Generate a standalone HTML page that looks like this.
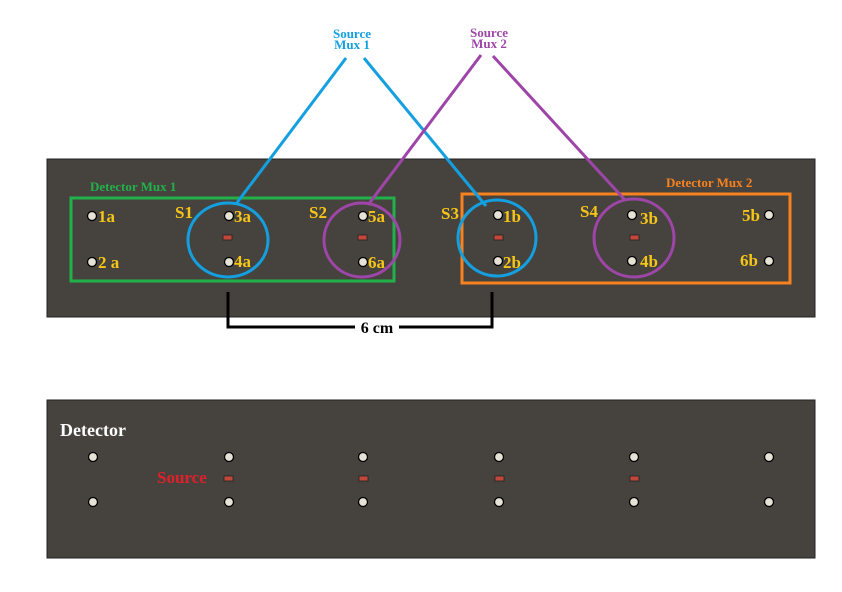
<!DOCTYPE html>
<html><head><style>body{margin:0;background:#fff}svg{display:block}</style></head><body>
<svg width="842" height="592" viewBox="0 0 842 592" xmlns="http://www.w3.org/2000/svg" font-family="Liberation Serif, serif" font-weight="bold">
<rect x="47" y="159" width="768" height="158" fill="#46433e" stroke="#222" stroke-width="1"/>
<rect x="47" y="400" width="768" height="158" fill="#46433e" stroke="#222" stroke-width="1"/>
<rect x="71" y="198" width="323" height="83" fill="none" stroke="#22b04a" stroke-width="3"/>
<rect x="462" y="194" width="328" height="89" fill="none" stroke="#f7821f" stroke-width="3"/>
<text x="90" y="191" fill="#22b04a" font-size="13">Detector Mux 1</text>
<text x="666" y="187" fill="#f7821f" font-size="13">Detector Mux 2</text>
<g stroke-width="3" fill="none">
<line x1="346" y1="58" x2="236" y2="204" stroke="#14a0e0"/>
<line x1="364" y1="58" x2="486" y2="206" stroke="#14a0e0"/>
<line x1="481" y1="55" x2="368" y2="205" stroke="#9e46a8"/>
<line x1="493" y1="56" x2="625" y2="200" stroke="#9e46a8"/>
<ellipse cx="228" cy="240" rx="40" ry="37" stroke="#14a0e0"/>
<ellipse cx="362" cy="240" rx="38" ry="37" stroke="#9e46a8"/>
<ellipse cx="497" cy="238" rx="39" ry="38" stroke="#14a0e0"/>
<ellipse cx="634" cy="238" rx="40" ry="39" stroke="#9e46a8"/>
<polyline points="228,292 228,327 492,327 492,292" stroke="#000"/>
</g>
<rect x="355" y="318" width="44" height="18" fill="#fff"/>
<text x="377" y="333" text-anchor="middle" font-size="16" fill="#000">6 cm</text>
<text x="352" y="38" text-anchor="middle" font-size="13" fill="#14a0e0">Source</text>
<text x="352" y="49" text-anchor="middle" font-size="13" fill="#14a0e0">Mux 1</text>
<text x="489" y="37" text-anchor="middle" font-size="13" fill="#9e46a8">Source</text>
<text x="489" y="48" text-anchor="middle" font-size="13" fill="#9e46a8">Mux 2</text>
<g fill="#e6e2d6" stroke="#000" stroke-width="1.3">
<circle cx="92" cy="216" r="4.5"/><circle cx="92" cy="262" r="4.5"/>
<circle cx="229" cy="216" r="4.5"/><circle cx="229" cy="262" r="4.5"/>
<circle cx="363" cy="216" r="4.5"/><circle cx="363" cy="262" r="4.5"/>
<circle cx="498" cy="215" r="4.5"/><circle cx="498" cy="261" r="4.5"/>
<circle cx="632" cy="215" r="4.5"/><circle cx="632" cy="261" r="4.5"/>
<circle cx="769" cy="215" r="4.5"/><circle cx="769" cy="261" r="4.5"/>
<circle cx="93" cy="457" r="4.5"/><circle cx="93" cy="502" r="4.5"/>
<circle cx="229" cy="457" r="4.5"/><circle cx="229" cy="502" r="4.5"/>
<circle cx="363" cy="457" r="4.5"/><circle cx="363" cy="502" r="4.5"/>
<circle cx="499" cy="457" r="4.5"/><circle cx="499" cy="502" r="4.5"/>
<circle cx="634" cy="457" r="4.5"/><circle cx="634" cy="502" r="4.5"/>
<circle cx="769" cy="457" r="4.5"/><circle cx="769" cy="502" r="4.5"/>
</g>
<g fill="#c0473a" stroke="#222" stroke-width="0.8">
<rect x="223" y="235" width="9" height="5"/><rect x="358" y="235" width="9" height="5"/>
<rect x="494" y="235" width="9" height="5"/><rect x="630" y="235" width="9" height="5"/>
<rect x="224" y="476" width="9" height="5"/><rect x="359" y="476" width="9" height="5"/>
<rect x="495" y="476" width="9" height="5"/><rect x="630" y="476" width="9" height="5"/>
</g>
<g fill="#f5c518" font-size="17">
<text x="98" y="222">1a</text><text x="98" y="268">2 a</text>
<text x="234" y="222">3a</text><text x="234" y="267">4a</text>
<text x="368" y="222">5a</text><text x="368" y="268">6a</text>
<text x="503" y="222">1b</text><text x="503" y="268">2b</text>
<text x="640" y="224">3b</text><text x="640" y="267">4b</text>
<text x="742" y="221">5b</text><text x="740" y="266">6b</text>
<text x="175" y="218">S1</text><text x="309" y="218">S2</text>
<text x="441" y="219">S3</text><text x="580" y="217">S4</text>
</g>
<text x="60" y="436" fill="#fff" font-size="18">Detector</text>
<text x="157" y="483" fill="#e0202a" font-size="17">Source</text>
</svg>
</body></html>
